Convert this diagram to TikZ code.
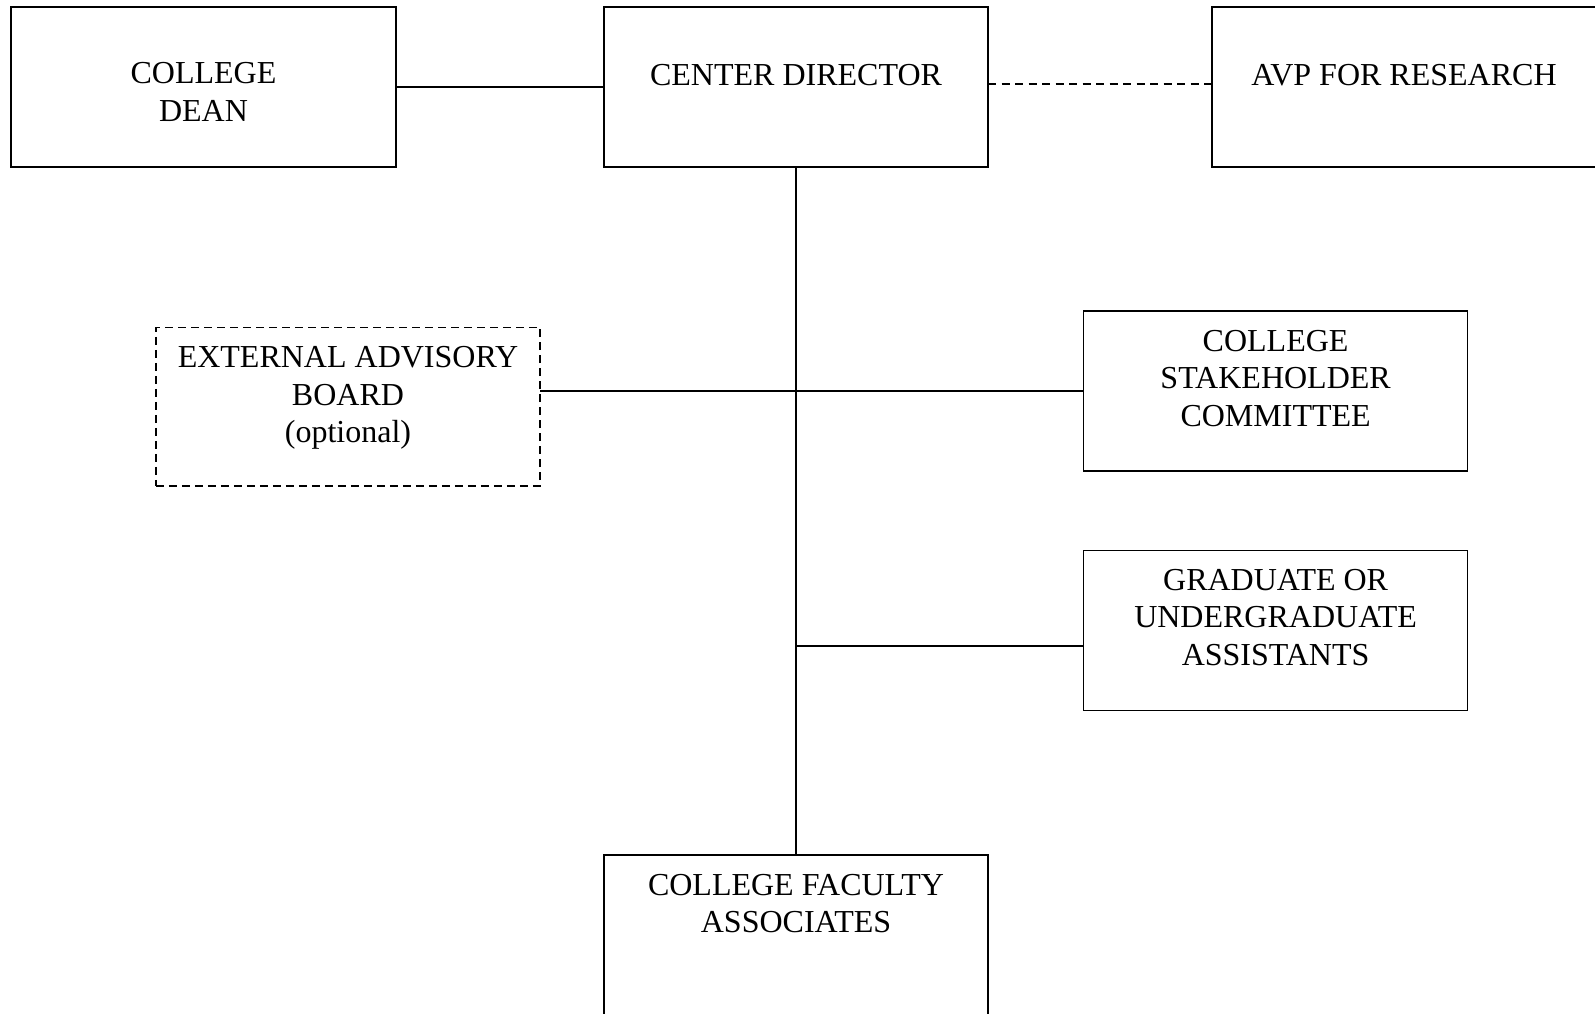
\documentclass[tikz,border=0pt]{standalone}
\usepackage{fontspec}
\setmainfont{Liberation Serif}
\begin{document}
\begin{tikzpicture}[x=1pt,y=-1pt,
  box/.style={draw,line width=1.3pt,minimum width=384pt,minimum height=160pt,inner sep=0pt,outer sep=0pt},
  dbox/.style={box,dash pattern=on 8pt off 5pt},
  lbl/.style={anchor=north,align=center,inner sep=0pt,font=\fontsize{32}{37.5}\selectfont},
  conn/.style={line width=1.3pt},
  dconn/.style={line width=1.3pt,dash pattern=on 8pt off 5.5pt}]
\useasboundingbox (0,0) rectangle (1595,1013);
\clip (0,0) rectangle (1595,1013);
% boxes
\node[box,minimum width=385pt] (dean) at (203.5,87) {};
\node[box] (cd) at (796,87) {};
\node[box,minimum width=420pt] (avp) at (1422,87) {};
\node[dbox,minimum height=158.6pt] (ext) at (347.9,406.7) {};
\node[box] (stake) at (1275.6,391) {};
\node[box] (grad) at (1275.6,630.7) {};
\node[box,minimum height=200pt] (fac) at (796,955) {};
% labels
\node[lbl] (tdean) at (203.5,62.5) {COLLEGE\\DEAN};
\node[lbl] (tcd) at (796,64.5) {CENTER DIRECTOR};
\node[lbl] (tavp) at (1404,64.5) {AVP FOR RESEARCH};
\node[lbl] (text) at (348,346.5) {EXTERNAL ADVISORY\\BOARD\\(optional)};
\node[lbl] (tstake) at (1275.6,330) {COLLEGE\\STAKEHOLDER\\COMMITTEE};
\node[lbl] (tgrad) at (1275.6,569) {GRADUATE OR\\UNDERGRADUATE\\ASSISTANTS};
\node[lbl] (tfac) at (796,874) {COLLEGE FACULTY\\ASSOCIATES};
% connectors
\draw[conn] (dean.east) -- (cd.west);
\draw[dconn] ([yshift=3pt]cd.east) -- ([yshift=3pt]cd.east -| avp.west);
\draw[conn] (cd.south) -- (fac.north);
\draw[conn] (stake.west) -- (stake.west -| ext.east);
\coordinate (j2) at (796,646);
\draw[conn] (j2) -- (j2 -| grad.west);
\end{tikzpicture}
\end{document}
